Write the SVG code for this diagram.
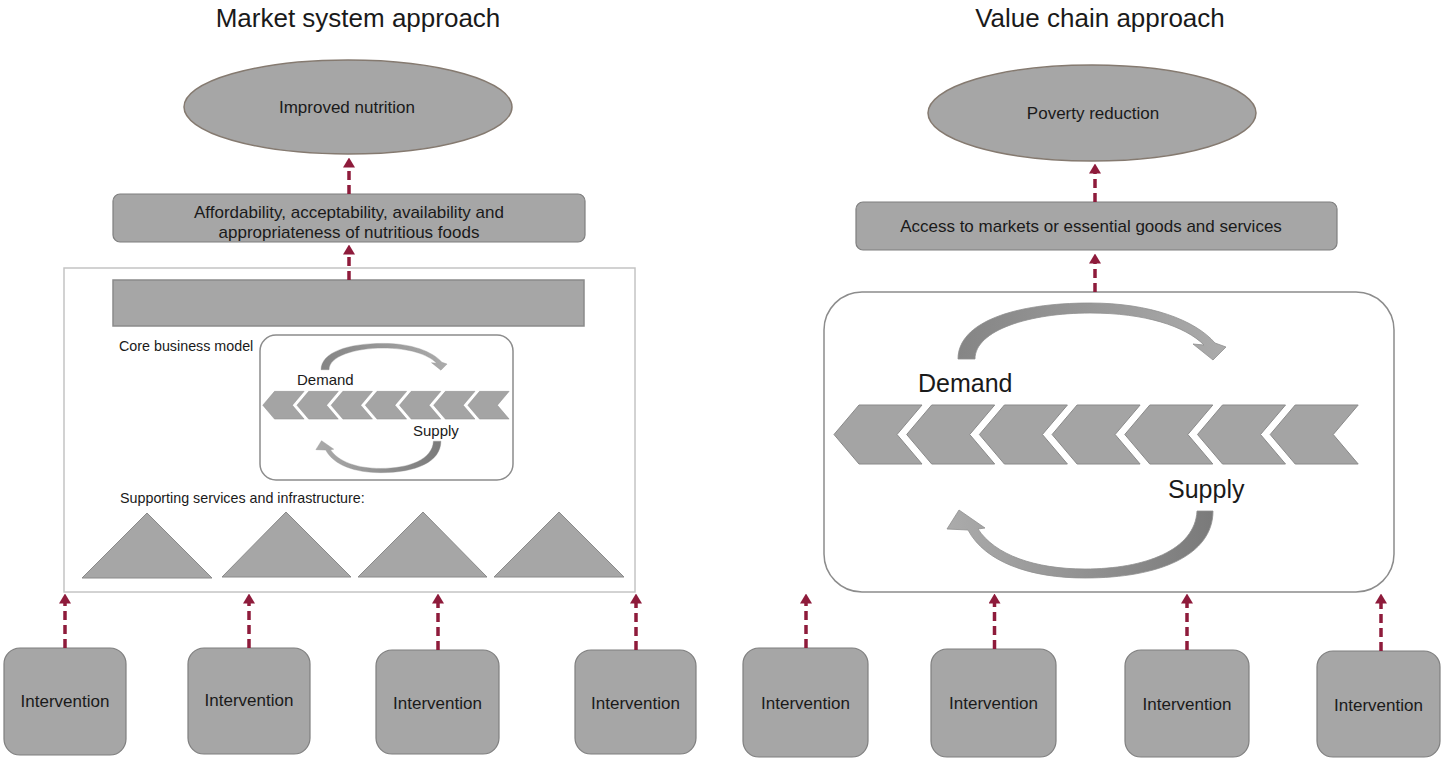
<svg xmlns="http://www.w3.org/2000/svg" width="1441" height="758" viewBox="0 0 1441 758">
<defs>
<style>
text{font-family:"Liberation Sans",Arial,Helvetica,sans-serif;fill:#1a1a1a}
.title{font-size:26px;text-anchor:middle}
.lbl{font-size:17px;text-anchor:middle}
.small{font-size:14.3px}
.node{fill:#a6a6a6;stroke:#7f7f7f;stroke-width:1.2}
.bar{fill:#a6a6a6;stroke:#8a8a8a;stroke-width:1.5}
.oval{fill:#a6a6a6;stroke:#857a70;stroke-width:1.5}
.frame{fill:none;stroke:#c4c4c4;stroke-width:1.5}
.cbox{fill:#fff;stroke:#8c8c8c;stroke-width:1.5}
.tri{fill:#a6a6a6;stroke:#8a8a8a;stroke-width:1}
.conn{stroke:#8e1b3b;stroke-width:3.5;stroke-dasharray:9 5;fill:none;marker-end:url(#ah)}
</style>
<marker id="ah" viewBox="0 0 10 12" refX="0.5" refY="6" markerWidth="10" markerHeight="12" markerUnits="userSpaceOnUse" orient="auto"><path d="M0,0 L10,6 L0,12 z" fill="#8e1b3b"/></marker>
<linearGradient id="gTop" x1="0" y1="0" x2="1" y2="0"><stop offset="0" stop-color="#858585"/><stop offset="1" stop-color="#ababab"/></linearGradient>
<linearGradient id="gBot" x1="1" y1="0" x2="0" y2="0"><stop offset="0" stop-color="#7a7a7a"/><stop offset="1" stop-color="#ababab"/></linearGradient>
<polygon id="chv" points="0,0 25,-29.5 88,-29.5 63,0 88,29.5 25,29.5" fill="#a4a4a4" stroke="#8a8a8a" stroke-width="1"/>
<g id="cycle">
<use href="#chv" x="834" y="434.5"/>
<use href="#chv" x="906.7" y="434.5"/>
<use href="#chv" x="979.4" y="434.5"/>
<use href="#chv" x="1052.1" y="434.5"/>
<use href="#chv" x="1124.8" y="434.5"/>
<use href="#chv" x="1197.5" y="434.5"/>
<use href="#chv" x="1270.2" y="434.5"/>
<path d="M958 359 C958 322 1015 303 1090 303 C1150 303 1195 320 1215 343 L1226 347 L1213 360 L1193 344 L1204 345 C1185 326 1145 313 1090 313 C1030 313 975 330 975 359 Z" fill="url(#gTop)" stroke="#8f8f8f" stroke-width="0.8"/>
<path d="M1197 511 L1213 511 C1213 555 1160 578 1085 578 C1030 578 985 562 968 530 L947 529 L959 510 L985 528 L978 529 C995 555 1035 569 1085 569 C1145 569 1195 550 1197 511 Z" fill="url(#gBot)" stroke="#8f8f8f" stroke-width="0.8"/>
</g>
</defs>
<rect x="0" y="0" width="1441" height="758" fill="#fff"/>

<g id="ms-title"><text class="title" x="358" y="27">Market system approach</text></g>
<g id="ms-goal"><ellipse class="oval" cx="348" cy="107" rx="164" ry="47"/><text class="lbl" x="347" y="113">Improved nutrition</text></g>
<g id="ms-outcome"><rect class="node" x="113" y="194" width="472" height="48" rx="7"/><text class="lbl" x="349" y="218">Affordability, acceptability, availability and</text><text class="lbl" x="349" y="238">appropriateness of nutritious foods</text></g>
<g id="ms-system">
<rect class="frame" x="64" y="268" width="571" height="324"/>
<rect class="bar" x="113" y="280" width="471" height="46"/>
<text class="small" x="119" y="351">Core business model</text>
<rect class="cbox" x="260" y="335" width="253" height="145" rx="16"/>
<use href="#cycle" transform="translate(-129.2,201) scale(0.47)"/>
<text x="297" y="385" font-size="15">Demand</text>
<text x="413" y="436" font-size="15">Supply</text>
<text class="small" x="120" y="503">Supporting services and infrastructure:</text>
<polygon class="tri" points="82,578 147,513 212,578"/>
<polygon class="tri" points="222,577 286,512 351,577"/>
<polygon class="tri" points="358,577 423,512 487,577"/>
<polygon class="tri" points="494,577 559,512 624,577"/>
</g>
<g id="ms-int1"><rect class="node" x="4" y="648" width="122" height="107" rx="16"/><text class="lbl" x="65" y="707">Intervention</text></g>
<g id="ms-int2"><rect class="node" x="188" y="648" width="122" height="106" rx="16"/><text class="lbl" x="249" y="706">Intervention</text></g>
<g id="ms-int3"><rect class="node" x="376" y="650" width="123" height="104" rx="16"/><text class="lbl" x="437.5" y="709">Intervention</text></g>
<g id="ms-int4"><rect class="node" x="575" y="650" width="121" height="104" rx="16"/><text class="lbl" x="635.5" y="709">Intervention</text></g>

<g id="vc-title"><text class="title" x="1100" y="27">Value chain approach</text></g>
<g id="vc-goal"><ellipse class="oval" cx="1092" cy="113" rx="164" ry="48"/><text class="lbl" x="1093" y="119">Poverty reduction</text></g>
<g id="vc-outcome"><rect class="node" x="856" y="202" width="481" height="48" rx="7"/><text class="lbl" x="1091" y="232">Access to markets or essential goods and services</text></g>
<g id="vc-system">
<rect class="cbox" x="824" y="292" width="570" height="300" rx="38"/>
<use href="#cycle"/>
<text x="918" y="392" font-size="25">Demand</text>
<text x="1168" y="498" font-size="25">Supply</text>
</g>
<g id="vc-int1"><rect class="node" x="743" y="648" width="125" height="109" rx="16"/><text class="lbl" x="805.5" y="709">Intervention</text></g>
<g id="vc-int2"><rect class="node" x="931" y="649" width="125" height="108" rx="16"/><text class="lbl" x="993.5" y="709">Intervention</text></g>
<g id="vc-int3"><rect class="node" x="1125" y="650" width="124" height="107" rx="16"/><text class="lbl" x="1187" y="710">Intervention</text></g>
<g id="vc-int4"><rect class="node" x="1317" y="651" width="123" height="106" rx="16"/><text class="lbl" x="1378.5" y="711">Intervention</text></g>

<g id="connectors">
<line class="conn" x1="349" y1="194" x2="349" y2="167"/>
<line class="conn" x1="349" y1="280" x2="349" y2="254"/>
<line class="conn" x1="65" y1="648" x2="65" y2="603"/>
<line class="conn" x1="249" y1="648" x2="249" y2="603"/>
<line class="conn" x1="438" y1="650" x2="438" y2="603"/>
<line class="conn" x1="636" y1="650" x2="636" y2="603"/>
<line class="conn" x1="1095" y1="202" x2="1095" y2="173"/>
<line class="conn" x1="1095" y1="292" x2="1095" y2="263"/>
<line class="conn" x1="806" y1="648" x2="806" y2="603"/>
<line class="conn" x1="994.5" y1="649" x2="994.5" y2="603"/>
<line class="conn" x1="1187" y1="650" x2="1187" y2="603"/>
<line class="conn" x1="1381" y1="651" x2="1381" y2="603"/>
</g>
</svg>
